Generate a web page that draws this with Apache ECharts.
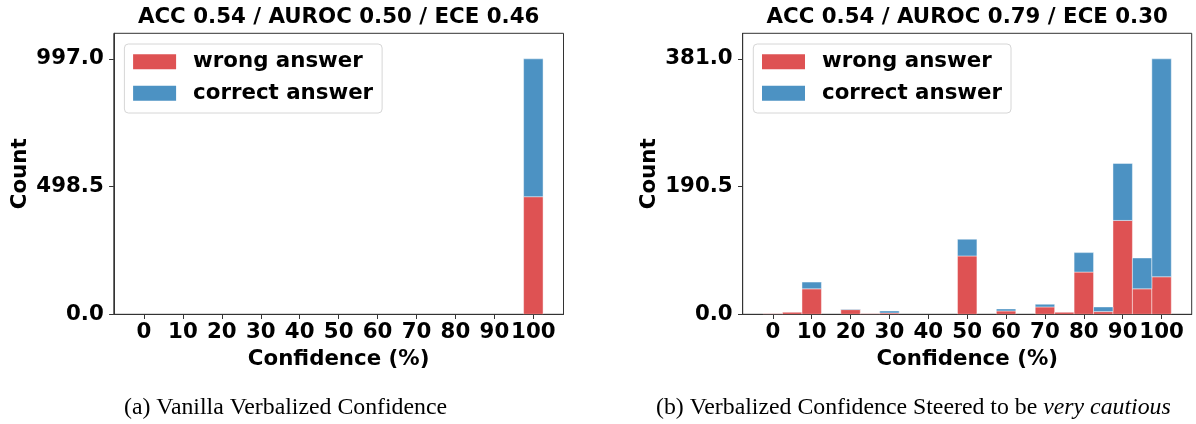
<!DOCTYPE html>
<html>
<head>
<meta charset="utf-8">
<script src="https://cdn.jsdelivr.net/npm/echarts@6/dist/echarts.min.js"></script>
<style>
html,body{margin:0;padding:0;background:#fff;}
#chart{width:1196px;height:424px;}
</style>
</head>
<body>
<div id="chart"></div>
<script>
// Bin centres (confidence %, bin width 5)
const bins = [0,5,10,15,20,25,30,35,40,45,50,55,60,65,70,75,80,85,90,95,100];
const xTickLabels = [0,10,20,30,40,50,60,70,80,90,100];
// (a) Vanilla verbalized confidence
const vanillaWrong   = [0,0,0,0,0,0,0,0,0,0,0,0,0,0,0,0,0,0,0,0,459];
const vanillaCorrect = [0,0,0,0,0,0,0,0,0,0,0,0,0,0,0,0,0,0,0,0,538];
// (b) Steered to be very cautious
const steeredWrong   = [1,3,38,0,7,1,2,0,0,0,87,0,5,0,11,3,63,4,140,38,56];
const steeredCorrect = [0,0,10,0,1,0,3,0,0,0,25,0,3,0,4,0,29,7,85,46,325];
const titles = ['ACC 0.54 / AUROC 0.50 / ECE 0.46', 'ACC 0.54 / AUROC 0.79 / ECE 0.30'];
const seriesNames = ['wrong answer', 'correct answer'];

const RED = '#de5253', BLUE = '#4c92c3';
const FONT = 'DejaVu Sans';
const FS = 21.33;
const BINW = 5;

const grids = [
  {left: 113.8, top: 33.3, width: 449.7, height: 281},
  {left: 742.7, top: 33.3, width: 449, height: 281}
];

function stackData(wrong, correct) {
  const w = [], c = [];
  bins.forEach((b, i) => {
    w.push([b, 0, wrong[i]]);
    c.push([b, wrong[i], wrong[i] + correct[i]]);
  });
  return [w, c];
}

function renderBar(color) {
  return function (params, api) {
    const y0 = api.value(1), y1 = api.value(2);
    if (y1 - y0 <= 0) return null;
    const x = api.value(0);
    const p0 = api.coord([x - BINW / 2, y0]);
    const p1 = api.coord([x + BINW / 2, y1]);
    return {
      type: 'rect',
      shape: {x: p0[0], y: p1[1], width: p1[0] - p0[0], height: p0[1] - p1[1]},
      style: {fill: color, stroke: 'rgba(255,255,255,0.55)', lineWidth: 0.8}
    };
  };
}

const panels = [[vanillaWrong, vanillaCorrect], [steeredWrong, steeredCorrect]];
const xAxes = [], yAxes = [], series = [], titleOpts = [], legends = [];

panels.forEach((p, gi) => {
  const totals = p[0].map((v, i) => v + p[1][i]);
  const ymax = Math.max.apply(null, totals);
  const yTicks = [0, ymax / 2, ymax];
  xAxes.push({
    type: 'value', gridIndex: gi, min: -7.75, max: 107.75,
    name: 'Confidence (%)', nameLocation: 'middle', nameGap: 35,
    nameTextStyle: {fontFamily: FONT, fontWeight: 'bold', fontSize: FS, color: '#000'},
    axisLine: {show: true, onZero: false, lineStyle: {color: '#333', width: 1}},
    axisTick: {show: true, length: 4.7, customValues: xTickLabels, lineStyle: {color: '#333', width: 1}},
    axisLabel: {customValues: xTickLabels, margin: 8, fontFamily: FONT, fontWeight: 'bold', fontSize: FS, color: '#000'},
    splitLine: {show: false}
  });
  yAxes.push({
    type: 'value', gridIndex: gi, min: 0, max: ymax * 1.1,
    name: 'Count', nameLocation: 'middle', nameGap: 83,
    nameTextStyle: {fontFamily: FONT, fontWeight: 'bold', fontSize: FS, color: '#000'},
    axisLine: {show: true, onZero: false, lineStyle: {color: '#333', width: 1}},
    axisTick: {show: true, length: 4.7, customValues: yTicks, lineStyle: {color: '#333', width: 1}},
    axisLabel: {customValues: yTicks, margin: 10, formatter: v => v.toFixed(1),
      fontFamily: FONT, fontWeight: 'bold', fontSize: FS, color: '#000'},
    splitLine: {show: false}
  });
  const [w, c] = stackData(p[0], p[1]);
  series.push({
    name: seriesNames[0], type: 'custom', xAxisIndex: gi, yAxisIndex: gi,
    renderItem: renderBar(RED), itemStyle: {color: RED}, data: w, clip: true,
    encode: {x: 0, y: [1, 2]}
  });
  series.push({
    name: seriesNames[1], type: 'custom', xAxisIndex: gi, yAxisIndex: gi,
    renderItem: renderBar(BLUE), itemStyle: {color: BLUE}, data: c, clip: true,
    encode: {x: 0, y: [1, 2]}
  });
  titleOpts.push({
    text: titles[gi],
    left: grids[gi].left + grids[gi].width / 2, top: 7, textAlign: 'center', padding: 0,
    textStyle: {fontFamily: FONT, fontWeight: 'bold', fontSize: FS, color: '#000'}
  });
  legends.push({
    data: seriesNames, orient: 'vertical',
    left: grids[gi].left + 10.6, top: 44,
    padding: [7, 9, 9, 8.7], itemGap: 10.4,
    itemWidth: 43, itemHeight: 15, icon: 'rect',
    backgroundColor: 'rgba(255,255,255,0.8)', borderColor: '#d6d6d6', borderWidth: 1, borderRadius: 4,
    textStyle: {fontFamily: FONT, fontWeight: 'bold', fontSize: FS, color: '#000', lineHeight: 21.3, padding: [0, 0, 0, 12]},
    selectedMode: false
  });
});

const chart = echarts.init(document.getElementById('chart'), null, {renderer: 'canvas'});
chart.setOption({
  animation: false,
  backgroundColor: '#fff',
  title: titleOpts,
  legend: legends,
  grid: grids.map(g => Object.assign({show: true, borderColor: '#333', borderWidth: 1, backgroundColor: 'transparent'}, g)),
  xAxis: xAxes,
  yAxis: yAxes,
  series: series,
  graphic: [
    {type: 'text', left: 124, top: 396, style: {
      text: '(a) Vanilla Verbalized Confidence',
      font: '23.8px "Liberation Serif"', fill: '#000'}},
    {type: 'text', left: 656, top: 396, style: {
      text: '{n|(b) Verbalized Confidence Steered to be }{i|very cautious}',
      rich: {n: {font: '23.8px "Liberation Serif"', fill: '#000'},
             i: {font: 'italic 23.8px "Liberation Serif"', fill: '#000'}}}}
  ]
});
</script>
</body>
</html>
